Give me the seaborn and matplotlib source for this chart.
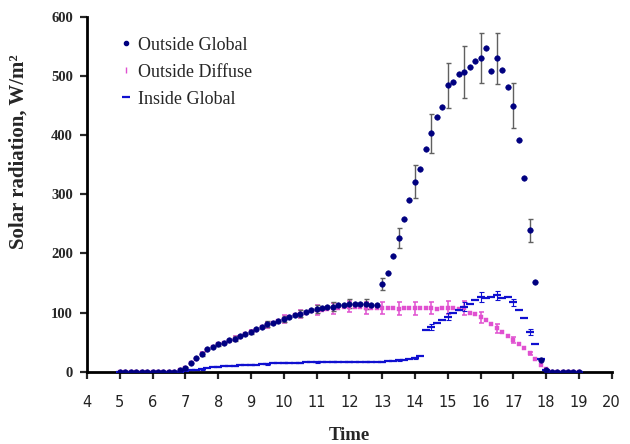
import numpy as np
import pandas as pd
import matplotlib
matplotlib.use("Agg")
import matplotlib.pyplot as plt
import seaborn as sns
from matplotlib.lines import Line2D

# 10-minute readings from 5:00 to 19:00
hours = np.round(np.arange(5, 19.001, 1 / 6), 3)

outside_global = [
    0, 0, 0, 0, 0, 0, 0, 0, 0, 0, 0, 2,
    6, 14, 23, 30, 38, 42,
    46, 49, 53, 56, 60, 64,
    67, 72, 75, 80, 83, 86,
    89, 92, 95, 98, 101, 104,
    106, 107, 109, 110, 112, 113,
    115, 115, 114, 114, 113, 113,
    148, 166, 195, 226, 258, 290,
    321, 343, 377, 403, 430, 447,
    484, 490, 503, 507, 516, 526,
    530, 547, 508, 530, 510, 481,
    450, 391, 328, 239, 152, 19,
    2, 0, 0, 0, 0, 0, 0,
]

outside_diffuse = [
    0, 0, 0, 0, 0, 0, 0, 0, 0, 0, 0, 2,
    6, 14, 22, 30, 37, 42,
    46, 49, 52, 56, 59, 63,
    67, 71, 75, 79, 82, 86,
    89, 92, 95, 97, 100, 102,
    104, 105, 106, 107, 108, 109,
    110, 109, 109, 108, 108, 108,
    107, 108, 107, 106, 107, 108,
    107, 108, 107, 108, 106, 107,
    108, 107, 106, 108, 100, 97,
    92, 87, 80, 73, 67, 60,
    53, 46, 40, 31, 22, 12,
    4, 0, 0, 0, 0, 0, 0,
]

inside_global = [
    0, 0, 0, 0, 0, 0, 0, 0, 0, 0, 0, 0,
    1, 2, 3, 4, 6, 7,
    8, 9, 10, 10, 11, 11,
    12, 12, 13, 13, 14, 14,
    15, 15, 15, 15, 16, 16,
    16, 16, 16, 17, 17, 17,
    17, 17, 17, 17, 17, 17,
    17, 18, 18, 19, 20, 21,
    23, 26, 70, 75, 82, 87,
    93, 100, 105, 110, 115, 121,
    126, 124, 126, 129, 124, 126,
    117, 104, 90, 67, 46, 22,
    3, 0, 0, 0, 0, 0, 0,
]

# error bars every half hour, 7:00 to 17:30
err_hours = np.round(np.arange(7, 17.501, 0.5), 3)
err_outside_global = [2, 3, 3, 4, 4, 5, 5, 6, 6, 7, 8, 8, 10, 17, 28, 33, 38, 44, 42, 43, 38, 19]
err_outside_diffuse = [2, 3, 3, 4, 4, 5, 6, 7, 8, 9, 9, 10, 10, 11, 11, 10, 11, 12, 9, 7, 5, 3]
err_inside_global = [1, 1, 1, 1, 1, 1, 1, 1, 1, 1, 1, 1, 1, 1, 2, 5, 6, 7, 8, 8, 6, 5]

df = pd.DataFrame({
    "Time": hours,
    "Outside Global": outside_global,
    "Outside Diffuse": outside_diffuse,
    "Inside Global": inside_global,
})

c_glob = "#000080"
c_diff = "#E050D0"
c_ins = "#1010D0"

sns.set_style("ticks")
fig = plt.figure(figsize=(6.3, 4.44), dpi=100)
ax = fig.add_axes([0.138, 0.163, 0.833, 0.799])


def draw_errors(col, errs, color, lw):
    sel = df.set_index("Time").loc[err_hours, col]
    ax.errorbar(err_hours, sel.values, yerr=errs, fmt="none", ecolor=color,
                elinewidth=lw, capsize=1.8, capthick=lw, zorder=2)


draw_errors("Outside Diffuse", err_outside_diffuse, c_diff, 1.1)
draw_errors("Inside Global", err_inside_global, c_ins, 0.8)
draw_errors("Outside Global", err_outside_global, "#606060", 1.0)

sns.scatterplot(data=df, x="Time", y="Outside Diffuse", ax=ax, marker="s", s=6,
                color=c_diff, edgecolor=c_diff, linewidth=0.3, zorder=3)
sns.scatterplot(data=df, x="Time", y="Inside Global", ax=ax, marker="_", s=40,
                color=c_ins, linewidth=1.6, zorder=4)
sns.scatterplot(data=df, x="Time", y="Outside Global", ax=ax, marker="o", s=16,
                color=c_glob, edgecolor=c_glob, linewidth=0.4, zorder=5)

ax.set_xlim(4, 20)
ax.set_ylim(0, 600)
ax.set_xticks(range(4, 21))
ax.set_yticks(range(0, 601, 100))

for s in ["left", "bottom"]:
    ax.spines[s].set_linewidth(2)
    ax.spines[s].set_color("black")
sns.despine(ax=ax)

ax.tick_params(axis="y", direction="out", length=5, width=1.6, pad=5)
ax.tick_params(axis="x", direction="out", length=5, width=1.6, pad=12)
for lab in ax.get_yticklabels():
    lab.set_fontfamily("Liberation Serif")
    lab.set_fontweight("bold")
    lab.set_fontsize(10.5)
for lab in ax.get_xticklabels():
    lab.set_fontfamily("DejaVu Sans")
    lab.set_fontsize(10.5)
    lab.set_color("#222222")

ax.set_xlabel("Time", fontfamily="Liberation Serif", fontweight="bold", fontsize=13.5)
ax.set_ylabel("Solar radiation, W/m²", fontfamily="Liberation Serif", fontweight="bold", fontsize=15)
ax.xaxis.set_label_coords(0.5, -0.155)
ax.yaxis.set_label_coords(-0.112, 0.62)

handles = [
    Line2D([], [], ls="none", marker="o", ms=3, color=c_glob),
    Line2D([], [], ls="none", marker="|", ms=4, color=c_diff),
    Line2D([], [], ls="none", marker="_", ms=6, mew=1.6, color=c_ins),
]
ax.legend(handles, ["Outside Global", "Outside Diffuse", "Inside Global"],
          loc="upper left", bbox_to_anchor=(0.035, 0.99), frameon=False,
          prop={"family": "Liberation Serif", "size": 13},
          handlelength=0.5, handletextpad=0.4, labelspacing=0.55)

fig.savefig("out.png", dpi=100)
